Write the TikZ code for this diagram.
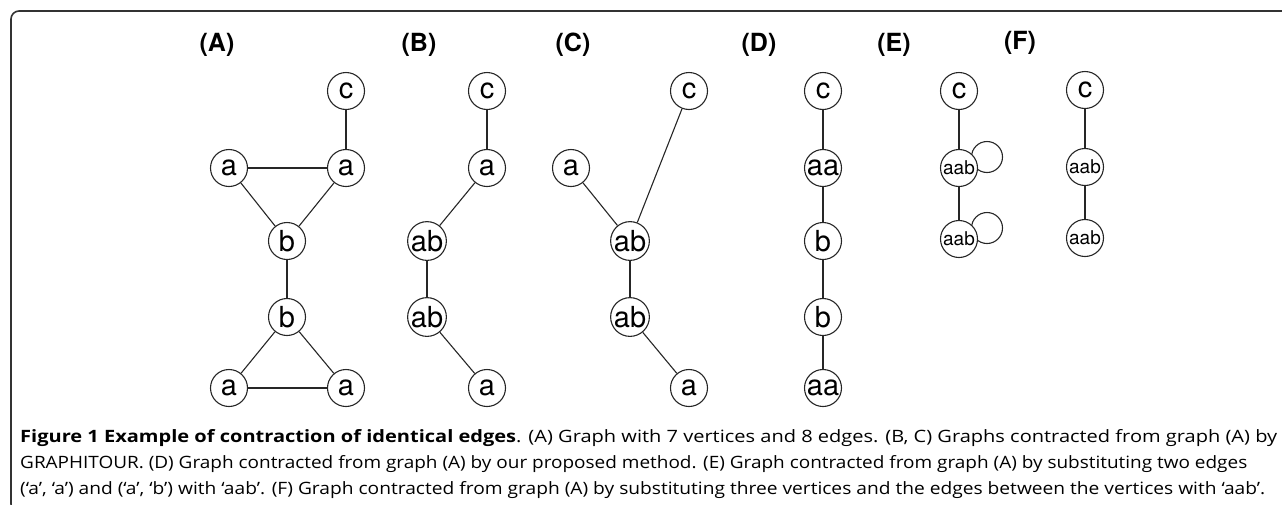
\documentclass[tikz,border=0pt]{standalone}
\usepackage{fontspec}
\setmainfont{TeX Gyre Heros}
\newfontfamily\capfont{Open Sans}
\usepackage{graphicx}
\tikzset{
  vtx/.style={circle, draw=black!85, line width=1.1pt, minimum size=37pt, inner sep=0pt, fill=white,
              font=\fontsize{29}{29}\selectfont},
  svtx/.style={vtx, font=\fontsize{19}{19}\selectfont},
  edge/.style={draw=black!85, line width=1.1pt},
  plabel/.style={font=\bfseries\fontsize{25}{25}\selectfont, inner sep=0pt},
  capline/.style={anchor=base west, inner sep=0pt, font=\capfont\fontsize{17}{17}\selectfont},
  frame/.style={draw=black!80, line width=1.6pt, rounded corners=8pt}
}
\begin{document}
\begin{tikzpicture}[x=1pt,y=-1pt]
\useasboundingbox (0,0) rectangle (1282,504);
\clip (0,0) rectangle (1282,504);
\draw[frame] (11,11) rectangle (1300,512);

% panel labels
\node[plabel] (LA) at (217,45) {(A)};
\node[plabel] (LB) at (419,45) {(B)};
\node[plabel] (LC) at (573,45) {(C)};
\node[plabel] (LD) at (759,45) {(D)};
\node[plabel] (LE) at (894,45) {(E)};
\node[plabel] (LF) at (1020,43) {(F)};

% loops in (E) drawn before nodes
\draw[edge] (987,157) circle (15.5);
\draw[edge] (987,228) circle (15.5);

% (A)
\node[vtx] (Ac)  at (346,91)  {c};
\node[vtx] (Aa1) at (229,168) {a};
\node[vtx] (Aa2) at (346,168) {a};
\node[vtx] (Ab1) at (287,241) {b};
\node[vtx] (Ab2) at (287,317) {b};
\node[vtx] (Aa3) at (229,388) {a};
\node[vtx] (Aa4) at (346,388) {a};
\draw[edge] (Ac) -- (Aa2);
\draw[edge] (Aa1) -- (Aa2);
\draw[edge] (Aa1) -- (Ab1);
\draw[edge] (Aa2) -- (Ab1);
\draw[edge] (Ab1) -- (Ab2);
\draw[edge] (Ab2) -- (Aa3);
\draw[edge] (Ab2) -- (Aa4);
\draw[edge] (Aa3) -- (Aa4);

% (B)
\node[vtx] (Bc)   at (487,91)  {c};
\node[vtx] (Ba1)  at (487,168) {a};
\node[vtx] (Bab1) at (427,241) {ab};
\node[vtx] (Bab2) at (427,317) {ab};
\node[vtx] (Ba2)  at (487,388) {a};
\draw[edge] (Bc) -- (Ba1);
\draw[edge] (Ba1) -- (Bab1);
\draw[edge] (Bab1) -- (Bab2);
\draw[edge] (Bab2) -- (Ba2);

% (C)
\node[vtx] (Ca1)  at (571,168) {a};
\node[vtx] (Cab1) at (630,241) {ab};
\node[vtx] (Cab2) at (630,317) {ab};
\node[vtx] (Cc)   at (689,91)  {c};
\node[vtx] (Ca2)  at (689,388) {a};
\draw[edge] (Ca1) -- (Cab1);
\draw[edge] (Cc) -- (Cab1);
\draw[edge] (Cab1) -- (Cab2);
\draw[edge] (Cab2) -- (Ca2);

% (D)
\node[vtx] (Dc)   at (823,91)  {c};
\node[vtx] (Daa1) at (823,168) {aa};
\node[vtx] (Db1)  at (823,241) {b};
\node[vtx] (Db2)  at (823,317) {b};
\node[vtx] (Daa2) at (823,388) {aa};
\draw[edge] (Dc) -- (Daa1);
\draw[edge] (Daa1) -- (Db1);
\draw[edge] (Db1) -- (Db2);
\draw[edge] (Db2) -- (Daa2);

% (E)
\node[vtx]  (Ec)    at (959,91)  {c};
\node[svtx] (Eaab1) at (959,168) {aab};
\node[svtx] (Eaab2) at (959,239) {aab};
\draw[edge] (Ec) -- (Eaab1);
\draw[edge] (Eaab1) -- (Eaab2);

% (F)
\node[vtx]  (Fc)    at (1085,90)  {c};
\node[svtx] (Faab1) at (1085,167) {aab};
\node[svtx] (Faab2) at (1085,238) {aab};
\draw[edge] (Fc) -- (Faab1);
\draw[edge] (Faab1) -- (Faab2);

% caption
\node[capline] (cap1) at (20,442) {\resizebox{1257pt}{\height}{\textbf{Figure 1 Example of contraction of identical edges}. (A) Graph with 7 vertices and 8 edges. (B, C) Graphs contracted from graph (A) by}};
\node[capline] (cap2) at (20,468) {\resizebox{1227pt}{\height}{GRAPHITOUR. (D) Graph contracted from graph (A) by our proposed method. (E) Graph contracted from graph (A) by substituting two edges}};
\node[capline] (cap3) at (20,494) {\resizebox{1245pt}{\height}{(‘a’, ‘a’) and (‘a’, ‘b’) with ‘aab’. (F) Graph contracted from graph (A) by substituting three vertices and the edges between the vertices with ‘aab’.}};
\end{tikzpicture}
\end{document}
